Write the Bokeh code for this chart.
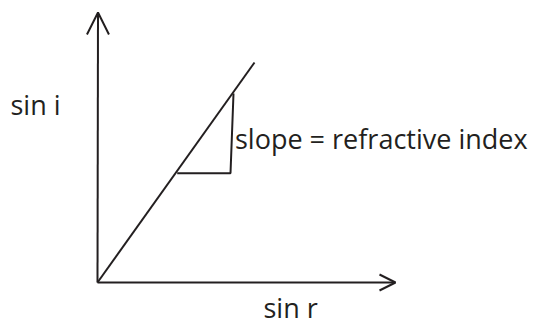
from bokeh.plotting import figure
from bokeh.models import Range1d, Arrow, OpenHead, ColumnDataSource
from bokeh.core.properties import value
from bokeh.embed import file_html
from bokeh.resources import INLINE

INK = "#231f20"

# Axes (origin at 0,0): start and tip points
axis_x0 = [0, 0]
axis_y0 = [0, 0]
axis_x1 = [0.5, 298]
axis_y1 = [270, 0]
axis_head = [22, 16]

# Straight line of sin i against sin r
line_x = [0, 157]
line_y = [0, 220]

# Slope triangle (from line, across, up to line)
tri_x = [79.7, 133, 136]
tri_y = [109.3, 109.3, 189]

# Labels
label_text = ["sin i", "slope = refractive index", "sin r"]
label_x = [-87, 137.5, 166]
label_y = [178, 144, -25]

p = figure(width=536, height=329, output_backend="svg", toolbar_location=None,
           x_range=Range1d(-97, 439), y_range=Range1d(-47, 282), min_border=0)
p.axis.visible = False
p.grid.visible = False
p.outline_line_color = None
p.background_fill_color = "white"
p.border_fill_color = "white"

p.line(line_x, line_y, line_width=2, line_color=INK)
p.line(tri_x, tri_y, line_width=2, line_color=INK)

for i in range(2):
    p.add_layout(Arrow(end=OpenHead(size=axis_head[i], line_width=2, line_color=INK),
                       x_start=axis_x0[i], y_start=axis_y0[i],
                       x_end=axis_x1[i], y_end=axis_y1[i],
                       line_width=2, line_color=INK))

src = ColumnDataSource(dict(x=label_x, y=label_y, t=label_text))
p.text(x="x", y="y", text="t", source=src, text_font=value("Open Sans"),
       text_font_size=value("27px"), text_color=INK, text_baseline="alphabetic",
       text_align="left")

open("out.html", "w").write(file_html(p, INLINE))
